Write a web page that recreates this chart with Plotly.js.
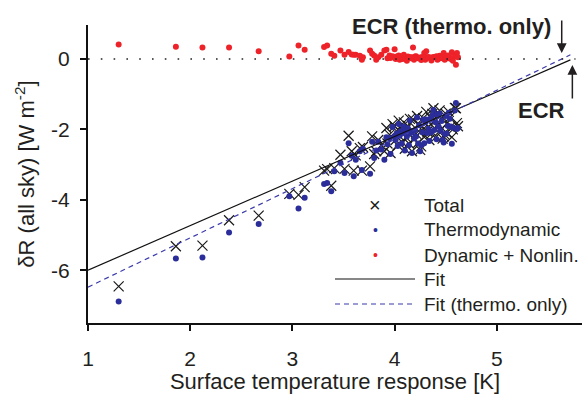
<!DOCTYPE html>
<html>
<head>
<meta charset="utf-8">
<script src="https://cdn.plot.ly/plotly-3.0.1.min.js"></script>
<style>html,body{margin:0;padding:0;background:#fff;}#chart{width:585px;height:394px;}</style>
</head>
<body>
<div id="chart"></div>
<script>
// ---- data ----
const tempResp = [1.30,1.86,2.12,2.38,2.67,2.97,3.06,3.12,3.31,3.34,3.38,3.41,3.47,3.51,3.55,3.60,3.62,3.68,3.69,3.76,3.78,3.82,3.80,3.84,3.87,3.90,3.92,3.93,3.95,3.96,3.98,4.00,4.01,4.02,4.03,4.04,4.05,4.06,4.07,4.08,4.09,4.10,4.11,4.12,4.13,4.14,4.15,4.16,4.17,4.18,4.19,4.20,4.21,4.22,4.23,4.24,4.25,4.26,4.27,4.28,4.29,4.30,4.31,4.32,4.33,4.34,4.35,4.36,4.37,4.38,4.39,4.40,4.41,4.42,4.43,4.44,4.45,4.46,4.47,4.48,4.49,4.50,4.51,4.52,4.53,4.54,4.55,4.56,4.57,4.59,4.60,4.61,4.62,3.66,3.58];
const totalR = [-6.46,-5.32,-5.30,-4.58,-4.45,-3.83,-3.86,-3.64,-3.17,-3.13,-3.60,-3.10,-2.72,-3.12,-2.18,-3.17,-2.74,-3.17,-2.50,-3.05,-2.20,-2.62,-2.70,-2.30,-2.45,-2.62,-1.96,-2.40,-2.15,-2.67,-1.85,-1.91,-2.30,-2.05,-2.45,-1.75,-2.20,-1.98,-2.35,-2.10,-1.80,-2.55,-2.00,-2.25,-1.90,-2.40,-1.70,-2.08,-2.62,-1.72,-2.28,-1.95,-2.12,-1.62,-2.38,-1.86,-2.58,-2.48,-2.02,-1.68,-2.22,-1.82,-1.50,-2.06,-1.92,-2.30,-1.66,-2.12,-1.56,-1.40,-1.96,-1.76,-2.20,-1.60,-1.86,-1.46,-2.02,-1.70,-2.26,-2.20,-2.15,-1.55,-2.10,-1.80,-1.50,-1.66,-1.92,-2.22,-2.00,-1.39,-1.40,-1.82,-1.91,-2.53,-2.62];
const thermoR = [-6.89,-5.67,-5.64,-4.93,-4.69,-3.90,-4.25,-3.94,-3.55,-3.52,-3.76,-3.19,-2.95,-3.24,-2.39,-3.33,-2.86,-3.15,-2.55,-3.26,-2.35,-2.60,-2.81,-2.35,-2.57,-2.86,-2.22,-2.42,-2.25,-2.70,-1.93,-2.19,-2.30,-2.12,-2.47,-1.85,-2.18,-2.05,-2.40,-2.10,-1.92,-2.60,-2.03,-2.20,-1.97,-2.45,-1.75,-2.10,-2.67,-2.05,-2.26,-2.02,-2.20,-1.66,-2.40,-1.88,-2.62,-2.45,-2.08,-1.72,-2.39,-1.80,-1.72,-2.10,-1.98,-2.33,-1.70,-2.08,-1.60,-1.45,-2.02,-1.80,-2.28,-1.58,-1.92,-1.55,-2.04,-1.76,-2.30,-2.37,-2.13,-1.62,-2.12,-1.90,-1.53,-1.70,-1.92,-2.41,-1.95,-1.46,-1.25,-1.99,-1.96,-2.62,-2.75];
const dynR = [0.41,0.35,0.33,0.33,0.22,0.07,0.38,0.26,0.34,0.38,0.15,0.09,0.24,0.12,0.20,0.12,0.12,-0.02,0.05,0.24,0.15,-0.02,0.10,0.05,0.12,0.24,0.26,0.02,0.10,0.03,0.08,0.28,0.00,0.07,0.02,0.10,-0.02,0.07,0.05,0.00,0.12,0.05,0.03,-0.05,0.07,0.05,0.05,0.02,0.05,0.33,-0.02,0.07,0.08,0.04,0.02,0.02,0.04,-0.03,0.06,0.04,0.17,-0.02,0.22,0.04,0.06,0.03,0.04,-0.04,0.04,0.05,0.06,0.04,0.08,-0.02,0.06,0.09,0.02,0.06,0.04,0.17,-0.02,0.07,0.02,0.10,0.03,0.04,0.00,0.19,-0.05,0.07,-0.16,0.17,0.05,0.09,0.13];

// linear fits (coefficients)
const fitTotal = {slope: 1.266, intercept: -7.266};
const fitThermo = {slope: 1.398, intercept: -7.878};
const fitXRange = [1, 5.72];
const zeroLineX = [1, 5.77];

const xTickVals = [1,2,3,4,5];
const yTickVals = [-6,-4,-2,0];
const yTickText = ['-6','-4','-2','0'];

const legendLabels = ['Total','Thermodynamic','Dynamic + Nonlin.','Fit','Fit (thermo. only)'];

// ---- derived ----
const ecrTotal = -fitTotal.intercept / fitTotal.slope;
const ecrThermo = -fitThermo.intercept / fitThermo.slope;
const lineY = (f) => fitXRange.map(x => f.intercept + f.slope * x);

const FONT = 'Liberation Sans, Arial, Helvetica, sans-serif';
const TXT = '#231f20';
const BLUE = '#2b2d9b';
const RED = '#ee2229';
const DASHBLUE = '#3b3bab';

const traces = [
  {x: tempResp, y: totalR, type: 'scatter', mode: 'markers', name: legendLabels[0],
   marker: {symbol: 'x-thin', size: 10, color: '#1a1a1a', line: {width: 1.2, color: '#1a1a1a'}}},
  {x: tempResp, y: thermoR, type: 'scatter', mode: 'markers', name: legendLabels[1],
   marker: {symbol: 'circle', size: 6, color: BLUE}},
  {x: tempResp, y: dynR, type: 'scatter', mode: 'markers', name: legendLabels[2],
   marker: {symbol: 'circle', size: 6, color: RED}},
  {x: fitXRange, y: lineY(fitTotal), type: 'scatter', mode: 'lines', name: legendLabels[3],
   line: {color: '#111', width: 1.2}},
  {x: fitXRange, y: lineY(fitThermo), type: 'scatter', mode: 'lines', name: legendLabels[4],
   line: {color: DASHBLUE, width: 1.2, dash: '5px,4px'}}
];

// plot area geometry (pixels) for the hand-drawn legend
const M = {l: 88, r: 3, t: 25, b: 71};
const W = 585, H = 394;
const pw = W - M.l - M.r, ph = H - M.t - M.b;
const px = (p) => (p - M.l) / pw;
const py = (p) => (H - M.b - p) / ph;

const legRows = [205, 230, 255, 279, 304];
const legMarkX = 375, legLine0 = 335, legLine1 = 415, legTextX = 422;

const annotations = [
  {xref: 'paper', yref: 'paper', x: px(553), y: py(26), xanchor: 'right', yanchor: 'middle',
   text: '<b>ECR (thermo. only)</b>', showarrow: false, font: {family: FONT, size: 22, color: TXT}},
  {xref: 'paper', yref: 'paper', x: px(567), y: py(110), xanchor: 'right', yanchor: 'middle',
   text: '<b>ECR</b>', showarrow: false, font: {family: FONT, size: 22, color: TXT}},
  {x: ecrThermo, y: 0, xref: 'x', yref: 'y', text: '', showarrow: true, ax: 0, ay: -40,
   arrowhead: 2, arrowsize: 1.3, arrowwidth: 1.5, arrowcolor: TXT, standoff: 6},
  {x: ecrTotal, y: 0, xref: 'x', yref: 'y', text: '', showarrow: true, ax: 0, ay: 41,
   arrowhead: 2, arrowsize: 1.3, arrowwidth: 1.5, arrowcolor: TXT, standoff: 6},
  // legend
  {xref: 'paper', yref: 'paper', x: px(legMarkX), y: py(legRows[0]), xanchor: 'center', yanchor: 'middle',
   text: '×', showarrow: false, font: {family: FONT, size: 20, color: '#1a1a1a'}},
  {xref: 'paper', yref: 'paper', x: px(legMarkX), y: py(legRows[1]), xanchor: 'center', yanchor: 'middle',
   text: '•', showarrow: false, font: {family: FONT, size: 14, color: BLUE}},
  {xref: 'paper', yref: 'paper', x: px(legMarkX), y: py(legRows[2]), xanchor: 'center', yanchor: 'middle',
   text: '•', showarrow: false, font: {family: FONT, size: 14, color: RED}}
];
legendLabels.forEach((t, i) => annotations.push({
  xref: 'paper', yref: 'paper', x: px(legTextX), y: py(legRows[i]), xanchor: 'left', yanchor: 'middle',
  text: t, showarrow: false, font: {family: FONT, size: 19, color: TXT}
}));

const shapes = [
  {type: 'line', xref: 'x', yref: 'y', x0: zeroLineX[0], x1: zeroLineX[1], y0: 0, y1: 0,
   line: {color: '#222', width: 1.6, dash: '1.6px,11.2px'}},
  {type: 'line', xref: 'paper', yref: 'paper', x0: px(legLine0), x1: px(legLine1), y0: py(legRows[3]), y1: py(legRows[3]),
   line: {color: '#111', width: 1.2}},
  {type: 'line', xref: 'paper', yref: 'paper', x0: px(legLine0), x1: px(legLine1), y0: py(legRows[4]), y1: py(legRows[4]),
   line: {color: DASHBLUE, width: 1.2, dash: '5px,4px'}}
];

const axisCommon = {
  showline: true, linecolor: '#111', linewidth: 2, ticks: 'outside', ticklen: 6, tickwidth: 2,
  tickcolor: '#111', showgrid: false, zeroline: false, automargin: false,
  tickfont: {family: FONT, size: 21, color: TXT}
};

const layout = {
  width: W, height: H, margin: M, showlegend: false,
  paper_bgcolor: '#fff', plot_bgcolor: '#fff',
  font: {family: FONT, color: TXT},
  xaxis: Object.assign({}, axisCommon, {
    range: [1, 1 + pw / 102.2], tickvals: xTickVals, ticklabelstandoff: 10,
    title: {text: 'Surface temperature response [K]', font: {family: FONT, size: 22, color: TXT}, standoff: 5}
  }),
  yaxis: Object.assign({}, axisCommon, {
    range: [-7.5, -7.5 + ph / 35.2], tickvals: yTickVals, ticktext: yTickText, ticklabelstandoff: 6,
    title: {text: 'δR (all sky) [W m<sup>-2</sup>]', font: {family: FONT, size: 22, color: TXT}, standoff: 10}
  }),
  annotations: annotations,
  shapes: shapes
};

Plotly.newPlot('chart', traces, layout, {displayModeBar: false, staticPlot: true});
</script>
</body>
</html>
